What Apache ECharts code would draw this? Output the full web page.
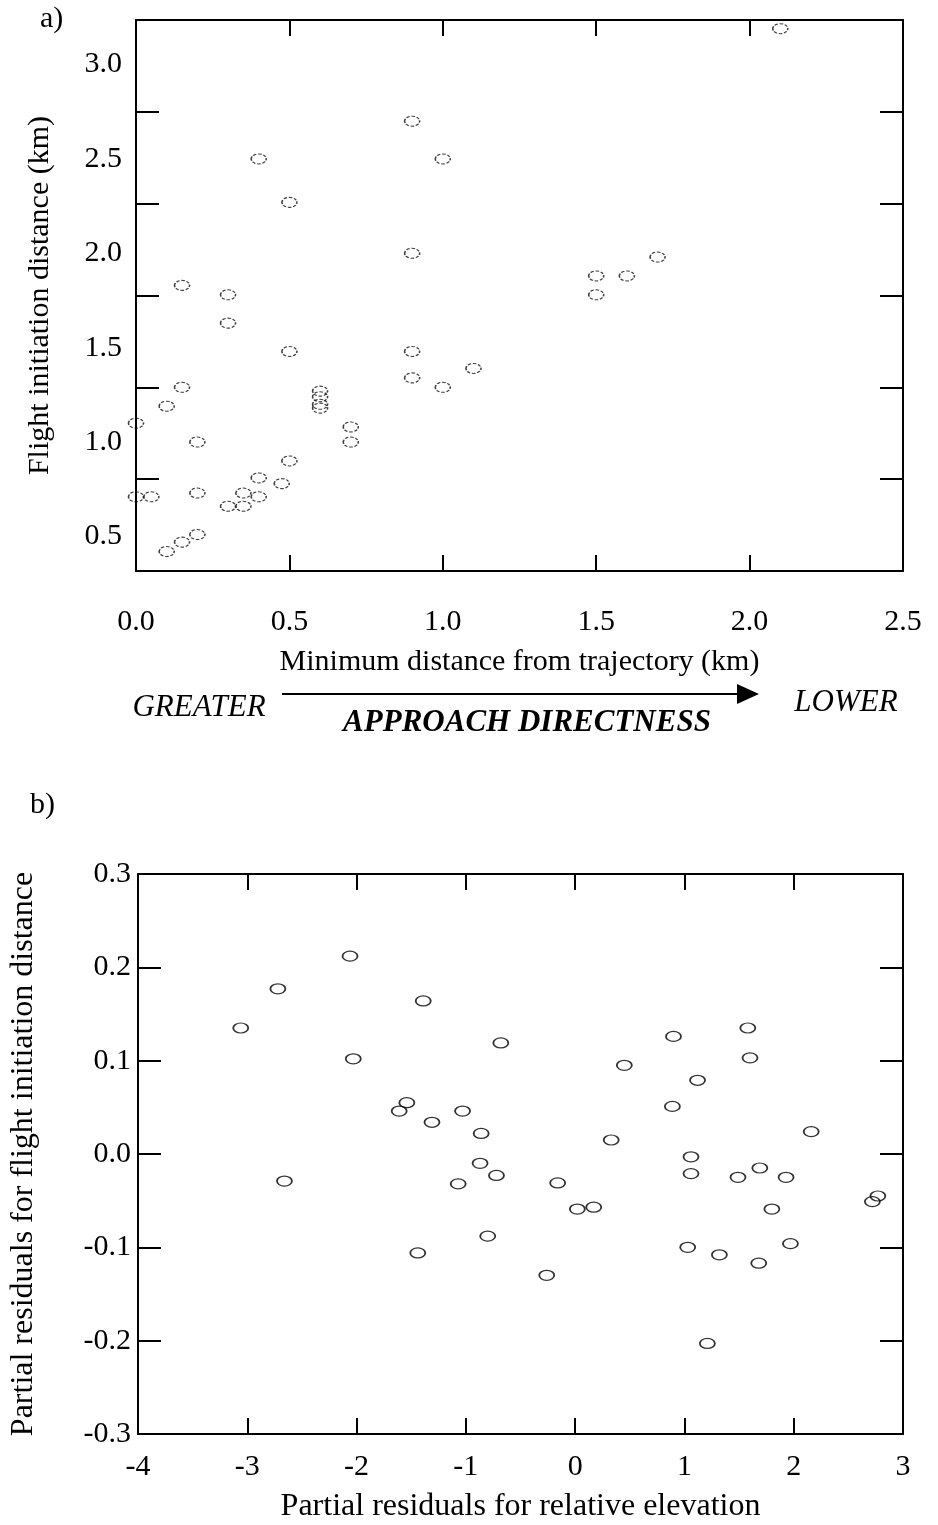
<!DOCTYPE html>
<html>
<head>
<meta charset="utf-8">
<script src="https://cdn.jsdelivr.net/npm/echarts@6/dist/echarts.min.js"></script>
<style>
  html, body { margin: 0; padding: 0; background: #fff; }
  #main { width: 938px; height: 1525px; }
</style>
</head>
<body>
<div id="main"></div>
<script>
// panel a: minimum distance from trajectory (km) vs flight initiation distance (km)
var distA = [0.0, 0.0, 0.05, 0.10, 0.10, 0.15, 0.15, 0.15, 0.20, 0.20, 0.20,
	0.30, 0.30, 0.30, 0.35, 0.35, 0.40, 0.40, 0.40, 0.475, 0.50, 0.50, 0.50,
	0.60, 0.60, 0.60, 0.60, 0.70, 0.70, 0.90, 0.90, 0.90, 0.90, 1.00, 1.00,
	1.10, 1.50, 1.50, 1.60, 1.70, 2.10];
var fidA = [1.10, 0.71, 0.71, 1.19, 0.42, 1.83, 1.29, 0.47, 1.00, 0.73, 0.51,
	1.78, 1.63, 0.66, 0.73, 0.66, 2.50, 0.81, 0.71, 0.78, 2.27, 1.48, 0.90,
	1.27, 1.24, 1.20, 1.18, 1.08, 1.00, 2.70, 2.00, 1.48, 1.34, 2.50, 1.29,
	1.39, 1.88, 1.78, 1.88, 1.98, 3.19];
var yLabelsA = [0.5, 1.0, 1.5, 2.0, 2.5, 3.0];

// panel b: partial residuals
var residElev = [-3.06, -2.72, -2.06, -2.03, -1.39, -1.61, -1.54, -1.31, -1.03,
	-2.66, -1.44, -1.07, -0.68, -0.86, -0.87, -0.72, -0.16, 0.45, 0.33, 0.90,
	0.89, 1.12, 1.58, 1.60, 1.06, 1.06, 1.49, 1.69, 1.93, 2.16, -0.80, -0.26,
	0.02, 0.17, 1.03, 1.32, 1.68, 1.80, 1.97, 1.21, 2.72, 2.77];
var residFid = [0.135, 0.177, 0.212, 0.102, 0.164, 0.046, 0.055, 0.034, 0.046,
	-0.029, -0.106, -0.032, 0.119, 0.022, -0.010, -0.023, -0.031, 0.095, 0.015, 0.126,
	0.051, 0.079, 0.135, 0.103, -0.003, -0.021, -0.025, -0.015, -0.025, 0.024, -0.088, -0.130,
	-0.059, -0.057, -0.100, -0.108, -0.117, -0.059, -0.096, -0.203, -0.051, -0.045];

var FONT = "'Liberation Serif', 'Times New Roman', serif";
var ELLIPSE = 'path://M0,5A5,5,0,1,1,10,5A5,5,0,1,1,0,5Z';

function pairs(xs, ys) {
	var out = [];
	for (var i = 0; i < xs.length; i++) out.push([xs[i], ys[i]]);
	return out;
}

var lineStyle = { color: '#000', width: 2 };
var labelStyle = { color: '#000', fontFamily: FONT, fontSize: 30 };
var nameStyle = { color: '#000', fontFamily: FONT, fontSize: 30 };

// tick-only axis used for the frame sides
function frameAxis(grid, pos, min, max, interval, len) {
	return {
		type: 'value', gridIndex: grid, position: pos,
		min: min, max: max, interval: interval,
		axisLine: { show: true, onZero: false, lineStyle: lineStyle },
		axisTick: { show: true, inside: true, length: len, lineStyle: lineStyle },
		axisLabel: { show: false },
		splitLine: { show: false }
	};
}

var leftA = frameAxis(0, 'left', 0, 6, 1, 23);
leftA.axisLine = { show: false, onZero: false };

var option = {
	backgroundColor: '#fff',
	animation: false,
	grid: [
		{ left: 136, top: 20, width: 767, height: 551 },
		{ left: 137, top: 874, width: 766, height: 560 }
	],
	xAxis: [
		{
			type: 'value', gridIndex: 0, position: 'bottom',
			min: 0, max: 2.5, interval: 0.5,
			name: 'Minimum distance from trajectory (km)',
			nameLocation: 'middle', nameGap: 76, nameTextStyle: nameStyle,
			axisLine: { show: true, onZero: false, lineStyle: lineStyle },
			axisTick: { show: true, inside: true, length: 16, lineStyle: lineStyle },
			axisLabel: Object.assign({ margin: 36, formatter: function(v) { return v.toFixed(1); } }, labelStyle),
			splitLine: { show: false }
		},
		frameAxis(0, 'top', 0, 2.5, 0.5, 16),
		{
			type: 'value', gridIndex: 1, position: 'bottom',
			min: -4, max: 3, interval: 1,
			name: 'Partial residuals for relative elevation',
			nameLocation: 'middle', nameGap: 57,
			nameTextStyle: { color: '#000', fontFamily: FONT, fontSize: 32 },
			axisLine: { show: true, onZero: false, lineStyle: lineStyle },
			axisTick: { show: true, inside: true, length: 16, lineStyle: lineStyle },
			axisLabel: Object.assign({ margin: 18 }, labelStyle),
			splitLine: { show: false }
		},
		frameAxis(1, 'top', -4, 3, 1, 16)
	],
	yAxis: [
		{
			type: 'value', gridIndex: 0, position: 'left',
			min: 0.317, max: 3.236,
			name: 'Flight initiation distance (km)',
			nameLocation: 'middle', nameGap: 81, nameTextStyle: nameStyle,
			axisLine: { show: true, onZero: false, lineStyle: lineStyle },
			axisTick: { show: false },
			axisLabel: Object.assign({
				margin: 14, customValues: yLabelsA,
				formatter: function(v) { return v.toFixed(1); }
			}, labelStyle),
			splitLine: { show: false }
		},
		frameAxis(0, 'right', 0, 6, 1, 23),
		leftA,
		{
			type: 'value', gridIndex: 1, position: 'left',
			min: -0.3, max: 0.3, interval: 0.1,
			name: 'Partial residuals for flight initiation distance',
			nameLocation: 'middle', nameGap: 98,
			nameTextStyle: { color: '#000', fontFamily: FONT, fontSize: 32 },
			axisLine: { show: true, onZero: false, lineStyle: lineStyle },
			axisTick: { show: true, inside: true, length: 23, lineStyle: lineStyle },
			axisLabel: Object.assign({ margin: 7, formatter: function(v) { return v.toFixed(1); } }, labelStyle),
			splitLine: { show: false }
		},
		frameAxis(1, 'right', -0.3, 0.3, 0.1, 23)
	],
	series: [
		{
			type: 'scatter', xAxisIndex: 0, yAxisIndex: 0,
			data: pairs(distA, fidA),
			symbol: ELLIPSE, symbolSize: [15, 10],
			itemStyle: { color: 'rgba(0,0,0,0)', borderColor: '#111', borderWidth: 1.3, borderType: [3, 1.5] }
		},
		{
			type: 'scatter', xAxisIndex: 2, yAxisIndex: 3,
			data: pairs(residElev, residFid),
			symbol: ELLIPSE, symbolSize: [15, 10],
			itemStyle: { color: 'rgba(0,0,0,0)', borderColor: '#000', borderWidth: 1.5 }
		}
	],
	graphic: [
		{ type: 'text', left: 40, top: 4, style: { text: 'a)', font: '30px ' + FONT, fill: '#000' } },
		{ type: 'text', left: 30, top: 790, style: { text: 'b)', font: '30px ' + FONT, fill: '#000' } },
		{ type: 'text', x: 199, y: 708, style: { text: 'GREATER', font: 'italic 31px ' + FONT, fill: '#000', align: 'center', verticalAlign: 'middle' } },
		{ type: 'text', x: 846, y: 703, style: { text: 'LOWER', font: 'italic 31px ' + FONT, fill: '#000', align: 'center', verticalAlign: 'middle' } },
		{ type: 'text', x: 527, y: 723, style: { text: 'APPROACH DIRECTNESS', font: 'italic bold 31px ' + FONT, fill: '#000', align: 'center', verticalAlign: 'middle' } },
		{ type: 'line', shape: { x1: 282, y1: 694, x2: 740, y2: 694 }, style: { stroke: '#000', lineWidth: 2 } },
		{ type: 'polygon', shape: { points: [[737, 684], [737, 704], [759, 694]] }, style: { fill: '#000' } }
	]
};

var myChart = echarts.init(document.getElementById('main'));
myChart.setOption(option);
</script>
</body>
</html>
